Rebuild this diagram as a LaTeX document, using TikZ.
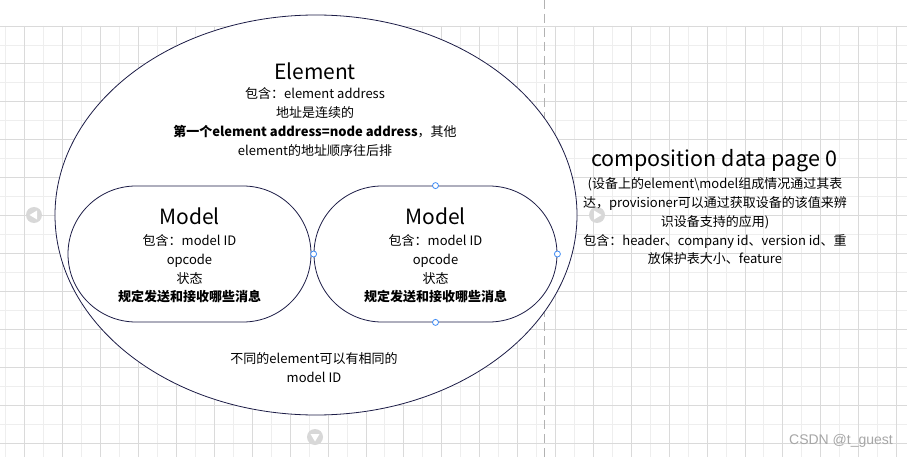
\documentclass[tikz,border=0pt]{standalone}
\usepackage{fontspec}
\setmainfont{Noto Sans CJK SC}
\newfontfamily\wmfont{Liberation Sans}
\usetikzlibrary{shapes.geometric}
\definecolor{shapeline}{RGB}{28,28,70}
\definecolor{gridmajor}{RGB}{218,218,218}
\definecolor{gridminor}{RGB}{238,238,238}
\definecolor{portblue}{RGB}{64,140,245}
\definecolor{hintgray}{RGB}{216,216,216}

\tikzset{
  bodytext/.style={align=center,inner sep=0pt,font=\fontsize{13}{19}\selectfont},
  titletext/.style={inner sep=0pt,font=\fontsize{21}{24}\selectfont},
  modelbox/.style={draw=shapeline,line width=0.8pt,fill=white,rounded corners=68pt,
    minimum width=243pt,minimum height=136pt,inner sep=0pt},
  port/.style={circle,draw=portblue,fill=white,line width=0.8pt,minimum size=6pt,inner sep=0pt}
}

\begin{document}
\begin{tikzpicture}[x=1pt,y=-1pt]
  \useasboundingbox (0,0) rectangle (907,457);
  \fill[white] (0,0) rectangle (907,457);
  % grid
  \foreach \i in {0,...,23}
    \draw[gridminor,line width=0.8pt] ({5.85+37.9*\i},26) -- ({5.85+37.9*\i},457);
  \foreach \j in {0,...,10}
    \draw[gridminor,line width=0.8pt] (0,{44.95+37.9*\j}) -- (907,{44.95+37.9*\j});
  \foreach \i in {0,...,23}
    \draw[gridmajor,line width=0.8pt] ({24.8+37.9*\i},26) -- ({24.8+37.9*\i},457);
  \foreach \j in {0,...,11}
    \draw[gridmajor,line width=0.8pt] (0,{26+37.9*\j}) -- (907,{26+37.9*\j});
  \draw[black!30,line width=1pt,dash pattern=on 9pt off 5pt] (544,0) -- (544,457);

  % hover hints
  \fill[hintgray] (34,215) circle (8);
  \fill[white] (29.5,215) -- (37,210.5) -- (37,219.5) -- cycle;
  \fill[hintgray] (597,215) circle (8);
  \fill[white] (601.5,215) -- (594,210.5) -- (594,219.5) -- cycle;
  \fill[hintgray] (315,437) circle (8);
  \fill[white] (315,441.5) -- (310.5,434) -- (319.5,434) -- cycle;

  \node[ellipse,draw=shapeline,line width=0.8pt,fill=white,minimum width=522pt,
    minimum height=400pt,inner sep=0pt] (elem) at (316,215) {};
  \node[titletext] (elemtitle) at (315,71) {Element};
  \node[bodytext] (elembody) at (315,122.5) {包含：element address\\地址是连续的\\
    \textbf{第一个element address=node address}，其他\\element的地址顺序往后排};

  \node[modelbox] (modA) at (189.5,254) {};
  \node[modelbox] (modB) at (435.5,254) {};
  \foreach \m in {modA,modB} {
    \node[titletext] (\m title) at ([yshift=38pt]\m.center) {Model};
    \node[bodytext,font=\fontsize{13}{18.7}\selectfont] (\m body) at ([yshift=-15pt]\m.center)
      {包含：model ID\\opcode\\状态\\\textbf{规定发送和接收哪些消息}};
  }
  \foreach \a in {north,south,east,west}
    \node[port] at (modB.\a) {};

  \node[bodytext] (elemnote) at (314,367.5) {不同的element可以有相同的\\model ID};

  \node[titletext,font=\fontsize{21.5}{24}\selectfont] (comptitle) at (714,161) {composition data page 0};
  \node[bodytext,font=\fontsize{13}{18.75}\selectfont] (compbody) at (715,221.5)
    {(设备上的element\textbackslash model组成情况通过其表\\
     达，provisioner可以通过获取设备的该值来辨\\识设备支持的应用)\\
     包含：header、company id、version id、重\\放保护表大小、feature};

  \node[inner sep=0pt,font=\wmfont\fontsize{14}{16}\selectfont,text=black!35] (mark) at (841,441) {CSDN @t\_guest};
\end{tikzpicture}
\end{document}
